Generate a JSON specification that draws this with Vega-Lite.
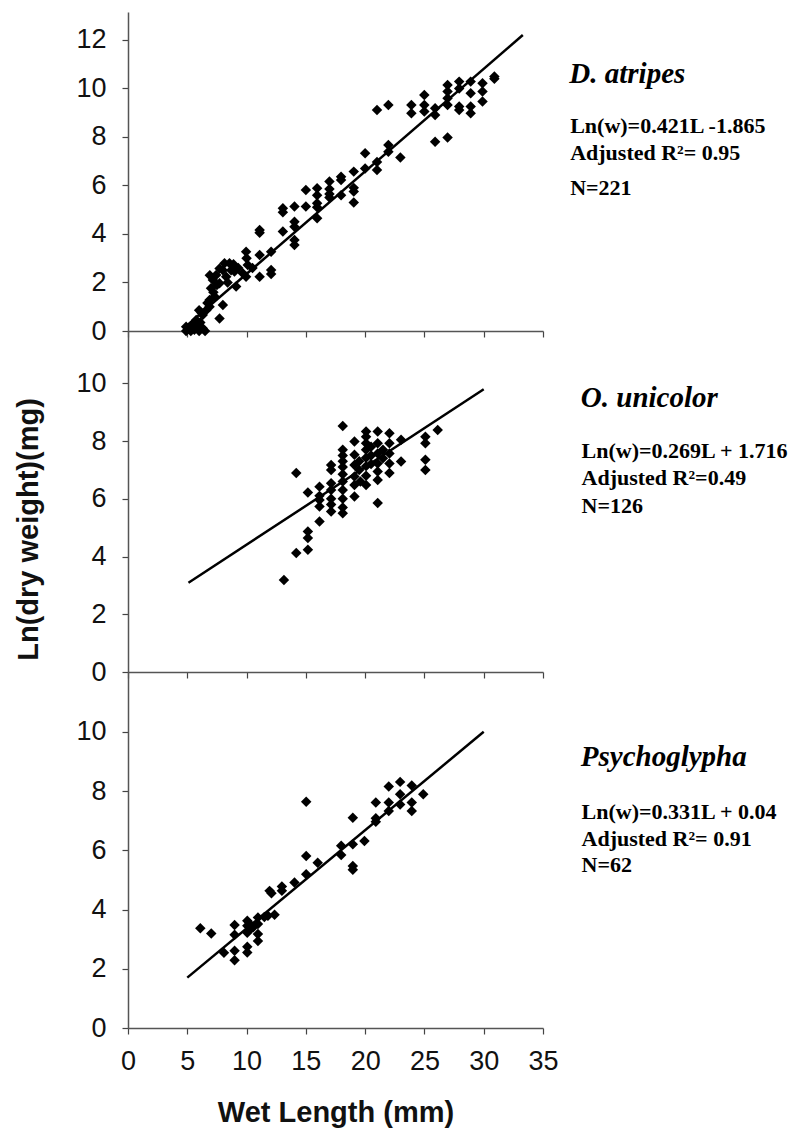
{
  "$schema": "https://vega.github.io/schema/vega-lite/v6.json",
  "padding": {"left": 14, "top": 12, "right": 5, "bottom": 5},
  "spacing": 0,
  "bounds": "flush",
  "config": {
    "view": {"stroke": null},
    "axis": {
      "grid": false,
      "domainColor": "#555",
      "domainWidth": 1.5,
      "tickColor": "#444",
      "tickWidth": 1.2,
      "tickSize": 6,
      "labelFont": "Liberation Sans",
      "labelFontSize": 27,
      "labelColor": "#111",
      "titleFont": "Liberation Sans",
      "titleFontSize": 29,
      "titleFontWeight": "bold",
      "titleColor": "#111"
    }
  },
  "datasets": {
    "top": [
      {"L":4.9,"v":0.0},{"L":4.9,"v":0.18},{"L":5.1,"v":0.1},{"L":5.3,"v":0.15},{"L":5.3,"v":0.0},{"L":5.5,"v":0.3},{"L":5.6,"v":0.05},{"L":5.75,"v":0.45},{"L":5.9,"v":0.18},{"L":6.0,"v":0.0},{"L":6.1,"v":0.35},{"L":6.3,"v":0.11},{"L":6.3,"v":0.66},{"L":6.0,"v":0.86},{"L":6.5,"v":0.0},{"L":6.6,"v":0.86},{"L":6.2,"v":0.75},{"L":6.88,"v":1.0},{"L":6.88,"v":1.28},{"L":6.7,"v":1.15},{"L":7.3,"v":1.42},{"L":7.72,"v":0.52},{"L":8.0,"v":1.07},{"L":7.0,"v":1.76},{"L":7.16,"v":2.1},{"L":6.9,"v":2.3},{"L":7.44,"v":2.31},{"L":7.2,"v":1.6},{"L":7.72,"v":2.58},{"L":7.5,"v":1.9},{"L":8.14,"v":2.79},{"L":8.56,"v":2.79},{"L":7.72,"v":1.97},{"L":8.28,"v":2.24},{"L":8.0,"v":2.5},{"L":8.4,"v":2.0},{"L":8.7,"v":2.5},{"L":9.12,"v":1.83},{"L":8.98,"v":2.45},{"L":8.9,"v":2.75},{"L":9.68,"v":2.38},{"L":9.3,"v":2.6},{"L":9.96,"v":3.27},{"L":9.96,"v":2.24},{"L":10.1,"v":2.72},{"L":10.0,"v":3.0},{"L":10.5,"v":2.6},{"L":11.1,"v":3.13},{"L":11.1,"v":4.16},{"L":11.1,"v":4.05},{"L":11.1,"v":2.24},{"L":12.07,"v":2.51},{"L":12.07,"v":2.35},{"L":12.07,"v":3.27},
      {"L":13.06,"v":5.06},{"L":13.06,"v":4.9},{"L":13.06,"v":4.1},{"L":14.04,"v":5.13},{"L":14.04,"v":4.5},{"L":14.04,"v":4.3},{"L":14.04,"v":3.75},{"L":14.04,"v":3.55},
      {"L":15.0,"v":5.81},{"L":15.0,"v":5.13},{"L":15.95,"v":5.88},{"L":15.95,"v":5.6},{"L":15.95,"v":5.27},{"L":15.95,"v":5.1},{"L":15.95,"v":4.65},{"L":16.99,"v":6.16},{"L":16.99,"v":5.85},{"L":16.99,"v":5.65},{"L":16.99,"v":5.5},{"L":17.97,"v":6.36},{"L":17.97,"v":6.22},{"L":17.97,"v":5.6},{"L":19.04,"v":6.57},{"L":19.04,"v":5.9},{"L":19.04,"v":5.75},{"L":19.04,"v":5.3},{"L":20.0,"v":7.33},{"L":20.0,"v":6.7},{"L":21.0,"v":9.11},{"L":21.0,"v":6.97},{"L":21.0,"v":6.64},{"L":21.96,"v":9.32},{"L":21.96,"v":7.67},{"L":21.96,"v":7.39},{"L":22.97,"v":7.15},
      {"L":23.9,"v":9.32},{"L":23.9,"v":8.98},{"L":24.99,"v":9.73},{"L":24.99,"v":9.32},{"L":24.99,"v":9.05},{"L":25.9,"v":9.18},{"L":25.9,"v":8.9},{"L":25.9,"v":7.8},{"L":26.95,"v":10.14},{"L":26.95,"v":9.87},{"L":26.95,"v":9.59},{"L":26.95,"v":9.32},{"L":26.95,"v":7.98},{"L":27.93,"v":10.28},{"L":27.93,"v":10.0},{"L":27.93,"v":9.25},{"L":27.93,"v":9.11},{"L":28.9,"v":10.28},{"L":28.9,"v":9.8},{"L":28.9,"v":9.25},{"L":28.9,"v":8.98},{"L":29.9,"v":10.21},{"L":29.9,"v":9.87},{"L":29.9,"v":9.46},{"L":30.9,"v":10.49},{"L":30.9,"v":10.4}
    ],
    "mid": [
      {"L":13.15,"v":3.19},{"L":14.19,"v":6.89},{"L":14.19,"v":4.12},{"L":15.17,"v":6.22},{"L":15.17,"v":4.87},{"L":15.17,"v":4.64},{"L":15.17,"v":4.23},
      {"L":16.15,"v":6.42},{"L":16.15,"v":6.1},{"L":16.15,"v":5.96},{"L":16.15,"v":5.73},{"L":16.15,"v":5.21},
      {"L":17.13,"v":7.17},{"L":17.13,"v":7.0},{"L":17.13,"v":6.54},{"L":17.13,"v":6.3},{"L":17.13,"v":6.0},{"L":17.13,"v":5.8},{"L":17.13,"v":5.56},
      {"L":18.11,"v":8.52},{"L":18.11,"v":7.7},{"L":18.11,"v":7.5},{"L":18.11,"v":7.3},{"L":18.11,"v":7.1},{"L":18.11,"v":6.85},{"L":18.11,"v":6.6},{"L":18.11,"v":6.3},{"L":18.11,"v":6.0},{"L":18.11,"v":5.7},{"L":18.11,"v":5.5},
      {"L":19.1,"v":7.98},{"L":19.1,"v":7.52},{"L":19.1,"v":7.17},{"L":19.1,"v":6.77},{"L":19.1,"v":6.48},{"L":19.1,"v":6.08},{"L":19.5,"v":7.0},{"L":19.5,"v":7.3},{"L":19.6,"v":6.6},
      {"L":20.08,"v":8.33},{"L":20.08,"v":8.15},{"L":20.08,"v":7.92},{"L":20.08,"v":7.7},{"L":20.08,"v":7.42},{"L":20.08,"v":7.13},{"L":20.08,"v":6.8},{"L":20.08,"v":6.48},{"L":20.5,"v":7.5},{"L":20.5,"v":7.8},{"L":20.5,"v":7.2},
      {"L":21.06,"v":8.33},{"L":21.06,"v":7.92},{"L":21.06,"v":7.57},{"L":21.06,"v":7.22},{"L":21.06,"v":6.94},{"L":21.06,"v":6.65},{"L":21.06,"v":5.85},{"L":21.5,"v":7.4},{"L":21.5,"v":7.7},
      {"L":22.05,"v":8.27},{"L":22.05,"v":7.92},{"L":22.05,"v":7.57},{"L":22.05,"v":7.22},{"L":22.05,"v":6.89},
      {"L":23.03,"v":8.04},{"L":23.03,"v":7.29},
      {"L":25.08,"v":8.15},{"L":25.08,"v":7.92},{"L":25.08,"v":7.35},{"L":25.08,"v":7.0},
      {"L":26.12,"v":8.38}
    ],
    "bot": [
      {"L":6.1,"v":3.37},{"L":7.02,"v":3.19},{"L":8.09,"v":2.54},{"L":8.99,"v":3.48},{"L":8.99,"v":3.15},{"L":8.99,"v":2.61},{"L":8.99,"v":2.29},
      {"L":10.06,"v":3.62},{"L":10.06,"v":3.45},{"L":10.06,"v":3.22},{"L":10.06,"v":2.74},{"L":10.06,"v":2.55},{"L":10.53,"v":3.39},{"L":10.3,"v":3.5},{"L":10.2,"v":3.3},
      {"L":10.96,"v":3.73},{"L":10.96,"v":3.51},{"L":10.96,"v":3.17},{"L":10.96,"v":2.94},{"L":11.5,"v":3.75},
      {"L":11.8,"v":3.79},{"L":11.94,"v":4.63},{"L":12.1,"v":4.55},{"L":12.36,"v":3.82},{"L":12.98,"v":4.78},{"L":12.98,"v":4.63},{"L":14.04,"v":4.91},
      {"L":15.03,"v":7.64},{"L":15.03,"v":5.81},{"L":15.03,"v":5.19},{"L":16.0,"v":5.58},
      {"L":17.98,"v":6.15},{"L":17.98,"v":5.84},{"L":18.96,"v":7.1},{"L":18.96,"v":6.2},{"L":18.96,"v":5.47},{"L":18.96,"v":5.34},{"L":19.94,"v":6.31},
      {"L":20.9,"v":7.61},{"L":20.9,"v":7.08},{"L":20.9,"v":6.96},
      {"L":21.99,"v":8.15},{"L":21.99,"v":7.61},{"L":21.99,"v":7.33},
      {"L":22.95,"v":8.31},{"L":22.95,"v":7.89},{"L":22.95,"v":7.55},
      {"L":23.93,"v":8.19},{"L":23.93,"v":7.61},{"L":23.93,"v":7.33},
      {"L":24.9,"v":7.89}
    ],
    "topLine": [{"L":5.0,"v":0.24},{"L":33.3,"v":12.2}],
    "midLine": [{"L":5.1,"v":3.09},{"L":30.0,"v":9.79}],
    "botLine": [{"L":5.0,"v":1.7},{"L":30.0,"v":10.0}],
    "topName": [{"L":37.22,"v":10.24,"t":"D. atripes"}],
    "topStats": [{"L":37.29,"v":8.18,"t":"Ln(w)=0.421L -1.865"},{"L":37.29,"v":7.05,"t":"Adjusted R²= 0.95"},{"L":37.29,"v":5.61,"t":"N=221"}],
    "midName": [{"L":38.19,"v":9.17,"t":"O. unicolor"}],
    "midStats": [{"L":38.25,"v":7.40,"t":"Ln(w)=0.269L + 1.716"},{"L":38.25,"v":6.48,"t":"Adjusted R²=0.49"},{"L":38.25,"v":5.50,"t":"N=126"}],
    "botName": [{"L":38.19,"v":8.86,"t":"Psychoglypha"}],
    "botStats": [{"L":38.25,"v":7.04,"t":"Ln(w)=0.331L + 0.04"},{"L":38.25,"v":6.14,"t":"Adjusted R²= 0.91"},{"L":38.25,"v":5.27,"t":"N=62"}]
  },
  "vconcat": [
    {
      "width": 415,
      "height": 319,
      "encoding": {
        "x": {"field": "L", "type": "quantitative", "scale": {"domain": [0, 35], "nice": false, "zero": false},
              "axis": {"values": [0,5,10,15,20,25,30,35], "labels": false, "title": null}},
        "y": {"field": "v", "type": "quantitative", "scale": {"domain": [0, 13.15], "nice": false, "zero": false},
              "axis": {"values": [0,2,4,6,8,10,12], "title": null, "labelPadding": 16}}
      },
      "layer": [
        {"data": {"name": "top"}, "mark": {"type": "point", "shape": "diamond", "filled": true, "color": "#000", "size": 110, "opacity": 1}},
        {"data": {"name": "topLine"}, "mark": {"type": "line", "color": "#000", "strokeWidth": 2.5}},
        {"data": {"name": "topName"}, "mark": {"type": "text", "align": "left", "baseline": "alphabetic", "font": "Liberation Serif", "fontWeight": "bold", "fontStyle": "italic", "fontSize": 29, "color": "#000"}, "encoding": {"text": {"field": "t"}}},
        {"data": {"name": "topStats"}, "mark": {"type": "text", "align": "left", "baseline": "alphabetic", "font": "Liberation Serif", "fontWeight": "bold", "fontSize": 22, "color": "#000"}, "encoding": {"text": {"field": "t"}}}
      ]
    },
    {
      "width": 415,
      "height": 341,
      "encoding": {
        "x": {"field": "L", "type": "quantitative", "scale": {"domain": [0, 35], "nice": false, "zero": false},
              "axis": {"values": [0,5,10,15,20,25,30,35], "labels": false, "title": null}},
        "y": {"field": "v", "type": "quantitative", "scale": {"domain": [0, 11.81], "nice": false, "zero": false},
              "axis": {"values": [0,2,4,6,8,10], "title": "Ln(dry weight)(mg)", "labelPadding": 16, "titlePadding": 32, "titleY": 198}}
      },
      "layer": [
        {"data": {"name": "mid"}, "mark": {"type": "point", "shape": "diamond", "filled": true, "color": "#000", "size": 110, "opacity": 1}},
        {"data": {"name": "midLine"}, "mark": {"type": "line", "color": "#000", "strokeWidth": 2.5}},
        {"data": {"name": "midName"}, "mark": {"type": "text", "align": "left", "baseline": "alphabetic", "font": "Liberation Serif", "fontWeight": "bold", "fontStyle": "italic", "fontSize": 29, "color": "#000"}, "encoding": {"text": {"field": "t"}}},
        {"data": {"name": "midStats"}, "mark": {"type": "text", "align": "left", "baseline": "alphabetic", "font": "Liberation Serif", "fontWeight": "bold", "fontSize": 22, "color": "#000"}, "encoding": {"text": {"field": "t"}}}
      ]
    },
    {
      "width": 415,
      "height": 356,
      "encoding": {
        "x": {"field": "L", "type": "quantitative", "scale": {"domain": [0, 35], "nice": false, "zero": false},
              "axis": {"values": [0,5,10,15,20,25,30,35], "title": "Wet Length (mm)", "labelFlush": false, "labelPadding": 14, "titlePadding": 24}},
        "y": {"field": "v", "type": "quantitative", "scale": {"domain": [0, 12.02], "nice": false, "zero": false},
              "axis": {"values": [0,2,4,6,8,10], "title": null, "labelPadding": 16}}
      },
      "layer": [
        {"data": {"name": "bot"}, "mark": {"type": "point", "shape": "diamond", "filled": true, "color": "#000", "size": 110, "opacity": 1}},
        {"data": {"name": "botLine"}, "mark": {"type": "line", "color": "#000", "strokeWidth": 2.5}},
        {"data": {"name": "botName"}, "mark": {"type": "text", "align": "left", "baseline": "alphabetic", "font": "Liberation Serif", "fontWeight": "bold", "fontStyle": "italic", "fontSize": 29, "color": "#000"}, "encoding": {"text": {"field": "t"}}},
        {"data": {"name": "botStats"}, "mark": {"type": "text", "align": "left", "baseline": "alphabetic", "font": "Liberation Serif", "fontWeight": "bold", "fontSize": 22, "color": "#000"}, "encoding": {"text": {"field": "t"}}}
      ]
    }
  ]
}
